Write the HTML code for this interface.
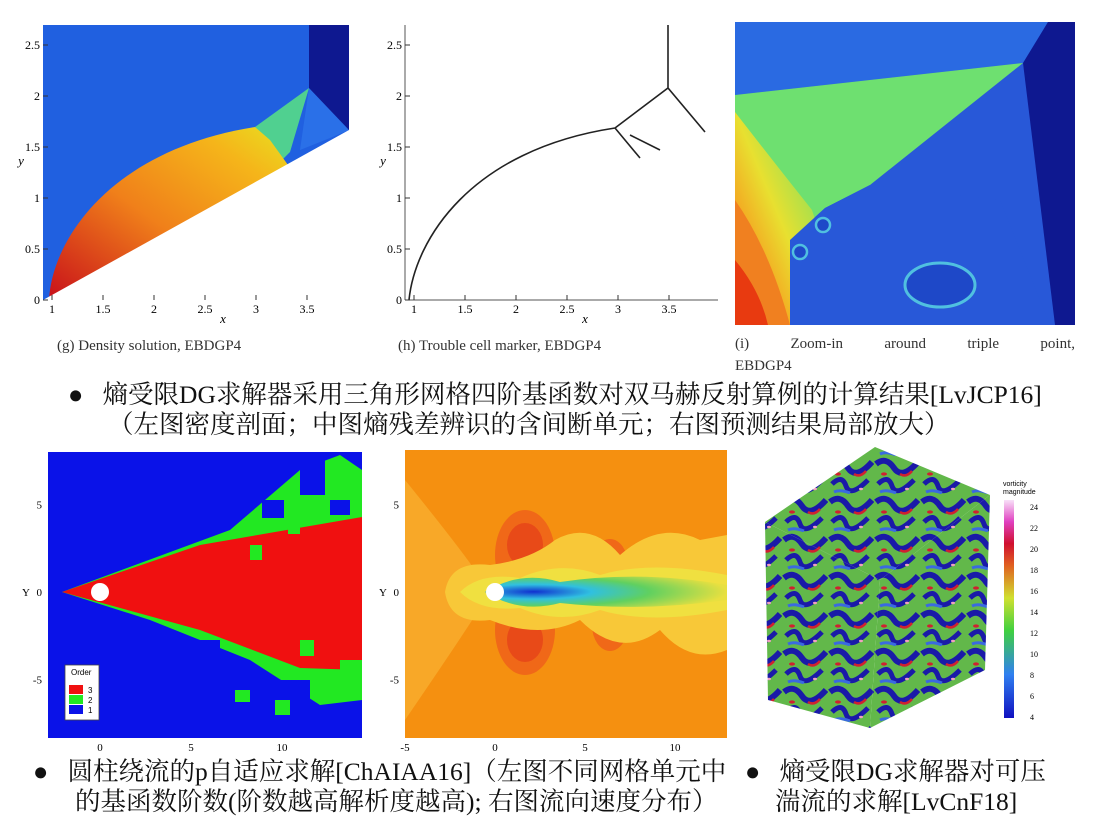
<!DOCTYPE html>
<html><head><meta charset="utf-8">
<style>
body{margin:0;width:1096px;height:832px;background:#fff;overflow:hidden;position:relative;font-family:"Liberation Serif","Noto Serif CJK SC",serif;}
.t{position:absolute;white-space:nowrap;color:#111;}
.cap{font-size:15px;color:#333;}
.zh{font-size:25.5px;line-height:30px;}
svg{position:absolute;left:0;top:0;}
</style></head><body>
<svg id="s" width="1096" height="832" viewBox="0 0 1096 832">
<defs>
<linearGradient id="wedge" x1="0" y1="1" x2="1" y2="0"><stop offset="0" stop-color="#c8101a"/><stop offset="0.45" stop-color="#f0801a"/><stop offset="0.8" stop-color="#f5b51a"/><stop offset="1" stop-color="#e8e020"/></linearGradient>
<linearGradient id="ileft" x1="0" y1="1" x2="1" y2="0"><stop offset="0" stop-color="#e83a10"/><stop offset="0.25" stop-color="#f5a020"/><stop offset="0.5" stop-color="#e8e030"/><stop offset="0.75" stop-color="#a0e050"/><stop offset="1" stop-color="#70e070"/></linearGradient>
<radialGradient id="wake" cx="0.2" cy="0.5" r="0.8"><stop offset="0" stop-color="#1030d0"/><stop offset="0.3" stop-color="#30c0e0"/><stop offset="0.6" stop-color="#60d060"/><stop offset="1" stop-color="#e8e040"/></radialGradient>
<pattern id="turb" width="46" height="38" patternUnits="userSpaceOnUse">
<rect width="46" height="38" fill="#62b84a"/>
<path d="M2 8 Q12 0 20 12 T44 6" stroke="#1a1aa8" stroke-width="6" fill="none"/>
<path d="M4 28 Q14 18 18 30 T40 24" stroke="#1a1aa8" stroke-width="5" fill="none"/>
<path d="M26 18 Q32 22 38 15" stroke="#d02030" stroke-width="2.5" fill="none"/>
<ellipse cx="10" cy="18" rx="3" ry="1.6" fill="#d02030"/>
<path d="M6 36 Q12 33 22 37" stroke="#3a6ae0" stroke-width="3" fill="none"/>
<ellipse cx="33" cy="33" rx="2" ry="1.2" fill="#f0a0c0"/>
</pattern>
</defs>

<g>
<rect x="43" y="25" width="306" height="275" fill="#2060e0"/>
<rect x="309" y="25" width="40" height="105" fill="#0e1890"/>
<polygon points="309,88 349,130 330,138 300,150" fill="#2a70e8"/>
<polygon points="255,127 309,88 290,152 282,160" fill="#50d090"/>
<path d="M49,300 C52,240 110,150 255,127 L270,140 288,165 L49,300 Z" fill="url(#wedge)"/>
<polygon points="43,300 349,130 349,300" fill="#fff"/>
</g>

<g>
<path d="M409,300 C415,240 470,150 615,128 L668,88 L705,132 M668,88 L668,25 M615,128 L640,158 M630,135 L660,150" stroke="#222" stroke-width="1.6" fill="none"/>
<line x1="405" y1="300" x2="718" y2="300" stroke="#555" stroke-width="1"/>
<line x1="405" y1="25" x2="405" y2="300" stroke="#555" stroke-width="1"/>
</g>

<g>
<rect x="735" y="22" width="340" height="303" fill="#2858d8"/>
<polygon points="735,22 1048,22 1023,63 735,95" fill="#2a6ae2"/>
<polygon points="735,95 1023,63 870,185 825,208 790,240 785,290 760,325 735,325" fill="#6ee070"/>
<path d="M735,112 Q780,170 812,210 Q830,260 822,325 L735,325 Z" fill="url(#ileft)"/>
<path d="M735,200 Q770,250 790,325 L735,325 Z" fill="#f08020"/>
<path d="M735,260 Q760,290 768,325 L735,325 Z" fill="#e83a10"/>
<polygon points="790,240 825,208 870,185 1000,200 1050,325 790,325" fill="#2858d8"/>
<ellipse cx="940" cy="285" rx="35" ry="22" fill="#1e48c8" stroke="#50c0e0" stroke-width="3"/>
<circle cx="823" cy="225" r="7" fill="#1e48c8" stroke="#50c0e0" stroke-width="2.5"/>
<circle cx="800" cy="252" r="7" fill="#1e48c8" stroke="#50c0e0" stroke-width="2.5"/>
<polygon points="1023,63 1048,22 1075,22 1075,325 1055,325" fill="#0e1890"/>
</g>

<g>
<rect x="48" y="452" width="314" height="286" fill="#0a12e8"/>
<polygon points="62,592 230,530 300,470 340,455 362,470 362,700 320,705 250,660 150,620" fill="#22e822"/>
<rect x="300" y="455" width="25" height="40" fill="#0a12e8"/><rect x="330" y="500" width="20" height="15" fill="#0a12e8"/>
<rect x="262" y="500" width="22" height="18" fill="#0a12e8"/><rect x="200" y="545" width="30" height="12" fill="#0a12e8"/>
<rect x="180" y="640" width="40" height="12" fill="#0a12e8"/><rect x="280" y="680" width="30" height="25" fill="#0a12e8"/>
<polygon points="62,592 200,545 362,517 362,670 300,668 200,630" fill="#f01010"/>
<rect x="250" y="545" width="12" height="15" fill="#22e822"/><rect x="288" y="520" width="12" height="14" fill="#22e822"/>
<rect x="300" y="640" width="14" height="16" fill="#22e822"/><rect x="340" y="660" width="22" height="30" fill="#22e822"/>
<rect x="235" y="690" width="15" height="12" fill="#22e822"/><rect x="275" y="700" width="15" height="15" fill="#22e822"/>
<circle cx="100" cy="592" r="9" fill="#fff"/>
<rect x="65" y="665" width="34" height="55" fill="#fff" stroke="#444" stroke-width="0.8"/>
<text x="71" y="675" font-size="8" font-family="Liberation Sans">Order</text>
<rect x="69" y="685" width="14" height="9" fill="#f01010"/><text x="88" y="693" font-size="8" font-family="Liberation Sans">3</text>
<rect x="69" y="695" width="14" height="9" fill="#22e822"/><text x="88" y="703" font-size="8" font-family="Liberation Sans">2</text>
<rect x="69" y="705" width="14" height="9" fill="#0a12e8"/><text x="88" y="713" font-size="8" font-family="Liberation Sans">1</text>
</g>

<g>
<rect x="405" y="450" width="322" height="288" fill="#f59010"/>
<path d="M405,480 Q470,560 490,592 Q470,625 405,720 Z" fill="#f8a828"/>
<ellipse cx="525" cy="555" rx="30" ry="45" fill="#f06818"/>
<ellipse cx="525" cy="630" rx="30" ry="45" fill="#f06818"/>
<ellipse cx="525" cy="545" rx="18" ry="22" fill="#e84a18"/>
<ellipse cx="525" cy="640" rx="18" ry="22" fill="#e84a18"/>
<ellipse cx="610" cy="565" rx="18" ry="26" fill="#f06818"/><ellipse cx="610" cy="625" rx="18" ry="26" fill="#f06818"/>
<ellipse cx="690" cy="565" rx="15" ry="24" fill="#f06818"/><ellipse cx="690" cy="625" rx="15" ry="24" fill="#f06818"/>
<path d="M445,592 Q450,560 490,565 Q530,560 555,540 Q590,520 620,555 Q660,520 700,540 L727,535 L727,650 Q690,665 660,630 Q620,660 580,620 Q540,640 490,620 Q450,625 445,592 Z" fill="#f8c838"/>
<path d="M460,592 Q480,572 520,578 Q560,560 600,575 Q650,560 727,575 L727,610 Q650,625 600,610 Q560,625 520,608 Q480,612 460,592 Z" fill="#f0e040"/>
<path d="M485,592 Q520,570 560,582 Q640,570 727,585 L727,600 Q640,612 560,603 Q520,614 485,592 Z" fill="url(#wake)"/>
<circle cx="495" cy="592" r="9" fill="#fff"/>
</g>

<g>
<polygon points="875,447 990,495 880,580 765,522" fill="url(#turb)"/>
<polygon points="765,522 880,580 870,728 768,700" fill="url(#turb)"/>
<polygon points="880,580 990,495 985,670 870,728" fill="url(#turb)"/>
</g>
<g>
<defs><linearGradient id="cb" x1="0" y1="1" x2="0" y2="0"><stop offset="0" stop-color="#1010c0"/><stop offset="0.2" stop-color="#3080f0"/><stop offset="0.4" stop-color="#40d040"/><stop offset="0.55" stop-color="#d0e030"/><stop offset="0.7" stop-color="#e06020"/><stop offset="0.8" stop-color="#d01030"/><stop offset="0.9" stop-color="#e040c0"/><stop offset="1" stop-color="#f8e0f8"/></linearGradient></defs>
<rect x="1004" y="500" width="10" height="218" fill="url(#cb)"/>
<text x="1003" y="486" font-size="7" font-family="Liberation Sans">vorticity</text>
<text x="1003" y="494" font-size="7" font-family="Liberation Sans">magnitude</text>
<g id="cbticks"></g>
</g>
<g id="axes"></g>
</svg>

<div class="t cap" style="left:57px;top:338px">(g) Density solution, EBDGP4</div>
<div class="t cap" style="left:398px;top:338px">(h) Trouble cell marker, EBDGP4</div>
<div class="t cap" style="left:735px;top:336px;width:340px;text-align:justify;text-align-last:justify">(i) Zoom-in around triple point,</div>
<div class="t cap" style="left:735px;top:358px">EBDGP4</div>
<div class="t zh" style="left:68px;top:380px">●&nbsp;&nbsp; 熵受限DG求解器采用三角形网格四阶基函数对双马赫反射算例的计算结果[LvJCP16]</div>
<div class="t zh" style="left:108px;top:410px">（左图密度剖面；中图熵残差辨识的含间断单元；右图预测结果局部放大）</div>
<div class="t zh" style="left:33px;top:757px">●&nbsp;&nbsp; 圆柱绕流的p自适应求解[ChAIAA16]（左图不同网格单元中</div>
<div class="t zh" style="left:75px;top:787px">的基函数阶数(阶数越高解析度越高); 右图流向速度分布）</div>
<div class="t zh" style="left:745px;top:757px">●&nbsp;&nbsp; 熵受限DG求解器对可压</div>
<div class="t zh" style="left:775px;top:787px">湍流的求解[LvCnF18]</div>

<script>
const gXTicks=[1,1.5,2,2.5,3,3.5];
const gYTicks=[0,0.5,1,1.5,2,2.5];
const flowXTicks=[0,5,10];
const velXTicks=[-5,0,5,10];
const flowYTicks=[5,0,-5];
const cbTicks=[24,22,20,18,16,14,12,10,8,6,4];
const NS="http://www.w3.org/2000/svg";
const ax=document.getElementById('axes');
function txt(x,y,s,sz,anchor,it){const t=document.createElementNS(NS,'text');t.setAttribute('x',x);t.setAttribute('y',y);t.setAttribute('font-size',sz);t.setAttribute('text-anchor',anchor);t.setAttribute('font-family','"Liberation Serif",serif');if(it)t.setAttribute('font-style','italic');t.textContent=s;return t;}
function ln(x1,y1,x2,y2){const l=document.createElementNS(NS,'line');l.setAttribute('x1',x1);l.setAttribute('y1',y1);l.setAttribute('x2',x2);l.setAttribute('y2',y2);l.setAttribute('stroke','#333');return l;}
[[0,43],[362,405]].forEach(([dx,left])=>{
  const xs=v=>52+dx+(v-1)*102, ys=v=>300-v*102;
  gXTicks.forEach(v=>{const t=txt(xs(v),313,String(v),12,'middle');
    
    ax.appendChild(t);ax.appendChild(ln(xs(v),300,xs(v),295));});
  gYTicks.forEach(v=>{const t=txt(left-3,ys(v)+4,String(v),12,'end');
    
    ax.appendChild(t);ax.appendChild(ln(left,ys(v),left+5,ys(v)));});
  const xl=txt(left+180,323,'x',13,'middle',true);
  
  ax.appendChild(xl);
  const yl=txt(left-22,165,'y',13,'middle',true);
  
  ax.appendChild(yl);
});
const fy=v=>592-v*17.5;
flowXTicks.forEach(v=>{const x=100+v*18.2;const t=txt(x,751,String(v),11,'middle');
  
  ax.appendChild(t);});
velXTicks.forEach(v=>{const x=495+v*18;const t=txt(x,751,String(v),11,'middle');
  
  ax.appendChild(t);});
[48,405].forEach(left=>{
  flowYTicks.forEach(v=>{const t=txt(left-6,fy(v)+4,String(v),11,'end');
    
    ax.appendChild(t);});
  const yl=txt(left-22,596,'Y',11,'middle');
  
  ax.appendChild(yl);
});
const cbg=document.getElementById('cbticks');
cbTicks.forEach((v,i)=>{const y=507+i*(210/(cbTicks.length-1));const t=txt(1030,y+3,String(v),8,'start');
  
  cbg.appendChild(t);});
</script>
</body></html>
